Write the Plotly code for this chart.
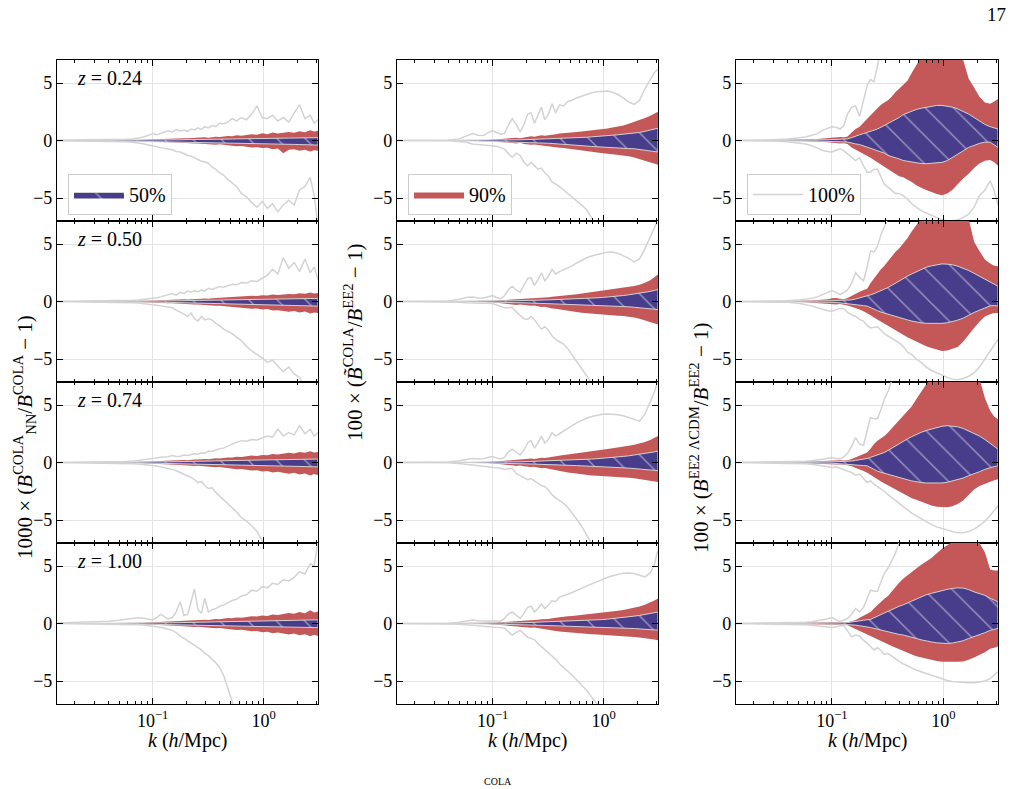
import plotly.graph_objects as go

# ---------------- data ----------------
K = [0.0138, 0.02, 0.03, 0.04, 0.05, 0.058, 0.066, 0.074, 0.083, 0.092,
     0.1, 0.109, 0.118, 0.128, 0.138, 0.15, 0.163, 0.177, 0.192, 0.207,
     0.222, 0.238, 0.256, 0.275, 0.295, 0.318, 0.343, 0.37, 0.4, 0.435,
     0.475, 0.52, 0.57, 0.63, 0.7, 0.78, 0.87, 0.97, 1.08, 1.2,
     1.34, 1.5, 1.68, 1.88, 2.1, 2.35, 2.62, 2.85, 3.08]

Z_LABELS = ["0.24", "0.50", "0.74", "1.00"]
LEGEND_NAMES = ["50%", "90%", "100%"]

# ---- column 1 : 1000 x (B_NN^COLA / B^COLA - 1) ----
C1R1_GRAY_UP = [0.02,0.03,0.04,0.05,0.08,0.1,0.14,0.2,0.3,0.45, 0.6,0.5,0.62,0.7,0.85,0.75,0.95,0.82,0.9,0.78, 1.0,0.92,1.1,0.95,1.2,1.1,1.3,1.2,1.5,1.45, 1.6,1.9,1.7,2.0,1.8,2.3,3.0,2.0,1.9,2.2, 1.7,2.0,1.6,2.4,3.1,1.9,2.2,1.5,1.8]
C1R1_GRAY_LO = [-0.02,-0.03,-0.04,-0.05,-0.08,-0.1,-0.15,-0.2,-0.28,-0.4, -0.5,-0.55,-0.62,-0.7,-0.78,-0.8,-0.95,-1.0,-1.15,-1.3, -1.35,-1.5,-1.6,-1.8,-1.85,-2.0,-2.3,-2.5,-2.8,-3.0, -3.4,-3.7,-4.0,-4.6,-4.9,-5.4,-5.8,-5.3,-5.9,-5.5, -6.2,-5.6,-5.2,-5.6,-4.3,-4.0,-3.2,-4.8,-7.5]
C1R1_RED_UP = [0.0,0.0,0.01,0.01,0.02,0.03,0.04,0.05,0.06,0.08, 0.1,0.11,0.12,0.13,0.15,0.14,0.17,0.18,0.2,0.19, 0.22,0.24,0.22,0.26,0.28,0.25,0.3,0.33,0.3,0.36, 0.4,0.38,0.45,0.42,0.5,0.55,0.5,0.62,0.55,0.7, 0.6,0.65,0.75,0.68,0.8,0.72,0.9,0.78,0.85]
C1R1_RED_LO = [0.0,0.0,-0.01,-0.01,-0.02,-0.03,-0.04,-0.05,-0.06,-0.08, -0.1,-0.12,-0.13,-0.14,-0.16,-0.15,-0.18,-0.2,-0.22,-0.2, -0.24,-0.26,-0.25,-0.28,-0.3,-0.28,-0.33,-0.36,-0.33,-0.4, -0.42,-0.45,-0.5,-0.48,-0.55,-0.6,-0.58,-0.65,-0.62,-0.75, -0.7,-1.1,-0.8,-0.75,-0.9,-0.8,-0.95,-0.85,-0.9]
C1R1_BLUE_UP = [0,0,0,0,0.01,0.01,0.01,0.02,0.02,0.03, 0.03,0.04,0.04,0.05,0.05,0.05,0.06,0.06,0.07,0.07, 0.08,0.08,0.09,0.09,0.1,0.1,0.11,0.11,0.12,0.12, 0.13,0.13,0.14,0.14,0.15,0.16,0.16,0.17,0.18,0.19, 0.2,0.2,0.21,0.22,0.23,0.22,0.25,0.24,0.25]
C1R1_BLUE_LO = [0,0,0,0,-0.01,-0.01,-0.02,-0.02,-0.03,-0.04, -0.05,-0.05,-0.06,-0.07,-0.08,-0.08,-0.09,-0.1,-0.11,-0.11, -0.12,-0.13,-0.14,-0.14,-0.15,-0.16,-0.17,-0.18,-0.19,-0.2, -0.21,-0.22,-0.23,-0.24,-0.25,-0.26,-0.27,-0.28,-0.29,-0.3, -0.31,-0.32,-0.33,-0.34,-0.35,-0.36,-0.37,-0.38,-0.4]

C1R2_GRAY_UP = [0.01,0.02,0.03,0.04,0.06,0.08,0.1,0.14,0.18,0.22, 0.25,0.32,0.4,0.5,0.6,0.7,0.55,0.8,0.7,0.9, 0.8,0.95,0.85,1.0,0.9,1.15,1.05,1.2,1.3,1.25, 1.4,1.5,1.45,1.65,1.6,1.8,1.75,2.0,2.3,2.8, 2.4,3.8,2.9,3.4,2.6,3.7,2.5,3.0,1.9]
C1R2_GRAY_LO = [-0.01,-0.02,-0.03,-0.04,-0.06,-0.08,-0.1,-0.13,-0.17,-0.22, -0.26,-0.32,-0.38,-0.45,-0.5,-0.55,-0.75,-0.9,-1.1,-1.3, -1.0,-1.5,-1.7,-1.3,-1.6,-1.5,-1.6,-1.9,-2.1,-2.4, -2.6,-2.8,-3.1,-3.4,-3.9,-4.3,-4.6,-4.9,-5.3,-5.1, -5.6,-6.1,-5.7,-6.3,-6.6,-7.5,-8.0,-8.0,-8.0]
C1R2_RED_UP = [0.0,0.0,0.01,0.01,0.02,0.03,0.04,0.05,0.06,0.07, 0.09,0.1,0.11,0.12,0.14,0.13,0.16,0.17,0.19,0.18, 0.21,0.22,0.21,0.25,0.26,0.24,0.29,0.31,0.29,0.34, 0.37,0.35,0.42,0.4,0.46,0.5,0.47,0.55,0.52,0.6, 0.56,0.62,0.66,0.62,0.72,0.68,0.78,0.7,0.75]
C1R2_RED_LO = [0.0,0.0,-0.01,-0.01,-0.02,-0.03,-0.04,-0.05,-0.06,-0.08, -0.1,-0.11,-0.12,-0.14,-0.16,-0.15,-0.18,-0.2,-0.22,-0.21, -0.25,-0.27,-0.26,-0.3,-0.32,-0.3,-0.35,-0.38,-0.36,-0.42, -0.45,-0.48,-0.52,-0.5,-0.58,-0.62,-0.6,-0.7,-0.66,-0.78, -0.75,-0.85,-0.9,-0.82,-0.95,-0.88,-1.05,-0.95,-1.0]
C1R2_BLUE_UP = [0,0,0,0,0.01,0.01,0.01,0.02,0.02,0.03, 0.03,0.04,0.04,0.05,0.05,0.06,0.06,0.07,0.07,0.08, 0.08,0.09,0.09,0.1,0.1,0.11,0.11,0.12,0.13,0.13, 0.14,0.15,0.15,0.16,0.17,0.17,0.18,0.19,0.2,0.2, 0.21,0.22,0.23,0.23,0.24,0.25,0.26,0.26,0.27]
C1R2_BLUE_LO = [0,0,0,0,-0.01,-0.01,-0.02,-0.02,-0.03,-0.04, -0.05,-0.05,-0.06,-0.07,-0.08,-0.08,-0.09,-0.1,-0.11,-0.12, -0.13,-0.14,-0.14,-0.15,-0.16,-0.17,-0.18,-0.19,-0.2,-0.21, -0.22,-0.23,-0.24,-0.25,-0.26,-0.27,-0.28,-0.29,-0.3,-0.31, -0.32,-0.33,-0.34,-0.35,-0.36,-0.37,-0.38,-0.39,-0.4]

C1R3_GRAY_UP = [0.01,0.02,0.03,0.04,0.05,0.08,0.12,0.17,0.22,0.28, 0.35,0.4,0.45,0.48,0.5,0.6,0.52,0.55,0.65,0.6, 0.7,0.75,0.72,0.85,0.8,1.0,0.95,1.1,1.2,1.25, 1.45,1.6,1.75,1.9,1.85,2.0,1.95,2.1,2.3,2.2, 2.9,2.3,2.6,2.4,3.2,2.5,2.9,2.3,2.6]
C1R3_GRAY_LO = [-0.01,-0.02,-0.03,-0.04,-0.05,-0.07,-0.1,-0.13,-0.17,-0.2, -0.23,-0.3,-0.38,-0.45,-0.5,-0.6,-0.72,-0.87,-1.0,-1.2, -1.3,-1.5,-1.75,-1.65,-2.0,-2.25,-2.2,-2.6,-2.9,-3.3, -3.6,-3.9,-4.3,-4.8,-5.1,-5.5,-6.0,-6.8,-7.5,-8.0, -8.0,-8.0,-8.0,-8.0,-8.0,-8.0,-8.0,-8.0,-8.0]
C1R3_RED_UP = [0,0,0.01,0.01,0.02,0.03,0.04,0.05,0.06,0.08, 0.1,0.11,0.12,0.14,0.15,0.15,0.18,0.2,0.21,0.2, 0.24,0.26,0.25,0.29,0.31,0.29,0.34,0.37,0.35,0.41, 0.44,0.43,0.5,0.48,0.56,0.6,0.57,0.66,0.62,0.74, 0.7,0.78,0.85,0.78,0.92,0.84,0.98,0.86,0.92]
C1R3_RED_LO = [0,0,-0.01,-0.01,-0.02,-0.03,-0.04,-0.05,-0.07,-0.09, -0.11,-0.12,-0.14,-0.15,-0.17,-0.16,-0.2,-0.22,-0.24,-0.22, -0.27,-0.3,-0.28,-0.33,-0.36,-0.33,-0.39,-0.42,-0.4,-0.47, -0.5,-0.53,-0.58,-0.56,-0.64,-0.7,-0.67,-0.78,-0.74,-0.86, -0.8,-0.92,-0.98,-0.9,-1.05,-0.96,-1.12,-1.0,-1.1]
C1R3_BLUE_UP = [0,0,0,0,0.01,0.01,0.01,0.02,0.02,0.03, 0.03,0.04,0.05,0.05,0.06,0.06,0.07,0.07,0.08,0.09, 0.09,0.1,0.1,0.11,0.12,0.12,0.13,0.14,0.14,0.15, 0.16,0.17,0.17,0.18,0.19,0.2,0.21,0.22,0.22,0.23, 0.24,0.25,0.26,0.27,0.27,0.28,0.29,0.3,0.3]
C1R3_BLUE_LO = [0,0,0,0,-0.01,-0.01,-0.02,-0.02,-0.03,-0.03, -0.04,-0.05,-0.05,-0.06,-0.07,-0.07,-0.08,-0.09,-0.1,-0.1, -0.11,-0.12,-0.13,-0.13,-0.14,-0.15,-0.16,-0.17,-0.18,-0.19, -0.2,-0.21,-0.22,-0.23,-0.24,-0.25,-0.26,-0.27,-0.28,-0.29, -0.3,-0.31,-0.32,-0.33,-0.34,-0.35,-0.36,-0.37,-0.38]

C1R4_GRAY_UP = [0.05,0.08,0.12,0.2,0.29,0.35,0.42,0.5,0.45,0.35, 0.3,0.5,0.8,0.6,0.4,0.5,1.0,1.9,0.7,0.8, 2.0,3.0,1.2,0.9,2.2,1.0,1.2,1.3,1.5,1.6, 1.8,2.0,2.1,2.4,2.5,2.9,2.8,3.2,3.1,3.5, 3.4,3.8,3.7,4.0,4.5,4.3,5.2,5.0,7.2]
C1R4_GRAY_LO = [-0.01,-0.02,-0.03,-0.04,-0.05,-0.06,-0.08,-0.1,-0.13,-0.18, -0.23,-0.28,-0.33,-0.42,-0.5,-0.6,-0.8,-1.1,-1.3,-1.5, -1.7,-1.9,-2.1,-2.3,-2.6,-2.8,-3.1,-3.4,-3.8,-4.5, -5.6,-6.8,-8.0,-8.0,-8.0,-8.0,-8.0,-8.0,-8.0,-8.0, -8.0,-8.0,-8.0,-8.0,-8.0,-8.0,-8.0,-8.0,-8.0]
C1R4_RED_UP = [0,0,0.01,0.01,0.02,0.03,0.04,0.05,0.06,0.08, 0.1,0.12,0.13,0.15,0.16,0.16,0.19,0.21,0.23,0.22, 0.26,0.28,0.27,0.31,0.33,0.31,0.36,0.4,0.38,0.44, 0.47,0.46,0.53,0.51,0.6,0.64,0.6,0.7,0.66,0.78, 0.74,0.84,0.92,0.84,1.0,0.9,1.15,0.95,1.05]
C1R4_RED_LO = [0,0,-0.01,-0.01,-0.02,-0.03,-0.04,-0.05,-0.07,-0.09, -0.11,-0.12,-0.14,-0.15,-0.17,-0.16,-0.2,-0.22,-0.24,-0.22, -0.27,-0.3,-0.28,-0.33,-0.36,-0.33,-0.39,-0.42,-0.4,-0.46, -0.5,-0.52,-0.57,-0.55,-0.63,-0.68,-0.65,-0.76,-0.72,-0.84, -0.78,-0.9,-0.96,-0.88,-1.02,-0.94,-1.1,-0.98,-1.08]
C1R4_BLUE_UP = [0,0,0,0,0.01,0.01,0.01,0.02,0.02,0.03, 0.03,0.04,0.05,0.05,0.06,0.06,0.07,0.07,0.08,0.09, 0.09,0.1,0.1,0.11,0.12,0.12,0.13,0.14,0.14,0.15, 0.16,0.17,0.17,0.18,0.19,0.2,0.21,0.22,0.22,0.23, 0.24,0.25,0.26,0.27,0.28,0.29,0.3,0.31,0.32]
C1R4_BLUE_LO = [0,0,0,0,-0.01,-0.01,-0.02,-0.02,-0.03,-0.03, -0.04,-0.05,-0.05,-0.06,-0.07,-0.07,-0.08,-0.09,-0.1,-0.1, -0.11,-0.12,-0.13,-0.13,-0.14,-0.15,-0.16,-0.17,-0.18,-0.19, -0.2,-0.21,-0.22,-0.23,-0.24,-0.25,-0.26,-0.27,-0.28,-0.29, -0.3,-0.31,-0.32,-0.33,-0.33,-0.34,-0.35,-0.35,-0.36]

# ---- column 2 : 100 x (B~COLA / B^EE2 - 1) ----
C2R1_GRAY_UP = [0.0,0.0,0.01,0.03,0.14,0.35,0.6,0.45,0.43,0.7, 0.85,0.7,0.55,0.6,1.3,1.9,1.4,0.75,1.4,2.3, 2.4,1.5,2.2,2.9,1.8,2.3,3.2,2.4,3.1,3.0, 3.4,3.5,3.7,3.85,4.0,4.15,4.25,4.3,4.3,4.2, 4.0,3.7,3.35,3.15,3.5,4.5,5.3,5.9,6.2]
C2R1_GRAY_LO = [0.0,0.0,-0.01,-0.03,-0.08,-0.15,-0.3,-0.35,-0.43,-0.45, -0.45,-0.5,-0.62,-0.75,-1.1,-1.45,-1.1,-1.3,-1.9,-2.2, -1.9,-2.2,-2.5,-2.4,-2.8,-3.1,-3.6,-3.8,-4.0,-4.3, -4.6,-4.9,-5.2,-5.6,-6.0,-6.8,-7.5,-8.0,-8.0,-8.0, -8.0,-8.0,-8.0,-8.0,-8.0,-8.0,-8.0,-8.0,-8.0]
C2R1_RED_UP = [0,0,0,0,0,0,0,0.02,0.03,0.05, 0.07,0.1,0.12,0.15,0.18,0.22,0.25,0.2,0.28,0.35, 0.38,0.32,0.4,0.45,0.42,0.48,0.55,0.55,0.6,0.62, 0.66,0.7,0.74,0.78,0.82,0.88,0.95,1.0,1.05,1.12, 1.2,1.3,1.45,1.6,1.75,1.95,2.15,2.35,2.5]
C2R1_RED_LO = [0,0,0,0,0,0,0,-0.02,-0.03,-0.05, -0.07,-0.1,-0.12,-0.15,-0.18,-0.22,-0.25,-0.2,-0.3,-0.36, -0.38,-0.34,-0.42,-0.46,-0.45,-0.5,-0.55,-0.58,-0.62,-0.65, -0.7,-0.75,-0.8,-0.85,-0.9,-0.97,-1.05,-1.12,-1.16,-1.2, -1.25,-1.3,-1.38,-1.48,-1.6,-1.72,-1.85,-2.0,-2.1]
C2R1_BLUE_UP = [0,0,0,0,0,0,0,0.01,0.01,0.02, 0.02,0.03,0.03,0.04,0.05,0.05,0.06,0.06,0.07,0.08, 0.09,0.09,0.1,0.11,0.11,0.12,0.13,0.13,0.14,0.16, 0.18,0.2,0.22,0.25,0.28,0.32,0.37,0.4,0.43,0.46, 0.5,0.54,0.58,0.63,0.7,0.8,0.9,1.0,1.07]
C2R1_BLUE_LO = [0,0,0,0,0,0,0,-0.01,-0.02,-0.03, -0.04,-0.05,-0.06,-0.07,-0.08,-0.1,-0.11,-0.12,-0.14,-0.16, -0.18,-0.2,-0.21,-0.22,-0.23,-0.24,-0.26,-0.27,-0.28,-0.3, -0.33,-0.36,-0.4,-0.44,-0.48,-0.52,-0.56,-0.6,-0.62,-0.64, -0.66,-0.68,-0.7,-0.72,-0.76,-0.82,-0.88,-0.95,-1.0]

C2R2_GRAY_UP = [0,0,0.01,0.05,0.2,0.35,0.4,0.3,0.3,0.45, 0.52,0.35,0.25,0.5,1.0,1.33,1.0,0.8,1.4,2.0, 2.05,1.4,1.9,2.5,1.8,2.2,2.8,2.4,2.6,2.75, 2.9,3.1,3.35,3.6,3.8,3.95,4.1,4.2,4.28,4.3, 4.2,4.0,3.75,3.45,3.7,4.6,5.6,6.4,7.1]
C2R2_GRAY_LO = [0,0,-0.01,-0.03,-0.06,-0.1,-0.13,-0.15,-0.16,-0.17, -0.17,-0.3,-0.45,-0.55,-0.55,-0.5,-0.9,-1.2,-1.5,-1.55, -1.3,-1.6,-2.0,-2.4,-2.2,-2.5,-3.0,-3.3,-3.5,-3.7, -4.1,-4.6,-5.2,-5.8,-6.5,-7.1,-7.6,-8.0,-8.0,-8.0, -8.0,-8.0,-8.0,-8.0,-8.0,-8.0,-8.0,-8.0,-8.0]
C2R2_RED_UP = [0,0,0,0,0,0,0,0.02,0.03,0.04, 0.06,0.08,0.1,0.12,0.15,0.18,0.2,0.18,0.22,0.26, 0.28,0.25,0.3,0.34,0.32,0.38,0.42,0.44,0.48,0.5, 0.54,0.58,0.62,0.68,0.74,0.8,0.86,0.92,0.98,1.04, 1.1,1.16,1.24,1.34,1.46,1.62,1.85,2.1,2.35]
C2R2_RED_LO = [0,0,0,0,0,0,0,-0.02,-0.03,-0.05, -0.07,-0.1,-0.12,-0.15,-0.2,-0.25,-0.3,-0.25,-0.32,-0.36, -0.38,-0.35,-0.42,-0.48,-0.46,-0.54,-0.6,-0.64,-0.68,-0.72, -0.78,-0.85,-0.92,-0.98,-1.03,-1.08,-1.12,-1.15,-1.18,-1.2, -1.23,-1.27,-1.32,-1.4,-1.5,-1.62,-1.75,-1.9,-2.0]
C2R2_BLUE_UP = [0,0,0,0,0,0,0,0.01,0.01,0.02, 0.02,0.03,0.03,0.04,0.05,0.06,0.07,0.07,0.08,0.09, 0.1,0.1,0.11,0.12,0.13,0.14,0.15,0.16,0.17,0.18, 0.2,0.22,0.24,0.26,0.28,0.3,0.32,0.35,0.38,0.42, 0.46,0.52,0.58,0.64,0.72,0.8,0.88,0.96,1.04]
C2R2_BLUE_LO = [0,0,0,0,0,0,0,-0.01,-0.02,-0.03, -0.04,-0.05,-0.06,-0.07,-0.08,-0.09,-0.1,-0.1,-0.11,-0.12, -0.13,-0.14,-0.15,-0.16,-0.17,-0.18,-0.19,-0.2,-0.21,-0.22, -0.23,-0.25,-0.27,-0.29,-0.31,-0.33,-0.35,-0.36,-0.37,-0.39, -0.41,-0.43,-0.46,-0.5,-0.54,-0.58,-0.62,-0.66,-0.7]

C2R3_GRAY_UP = [0,0,0.01,0.04,0.15,0.28,0.35,0.3,0.32,0.45, 0.52,0.4,0.3,0.45,0.9,1.16,0.9,0.65,1.1,1.7, 1.9,1.25,1.7,2.3,1.7,2.0,2.6,2.3,2.5,2.7, 2.95,3.2,3.45,3.65,3.85,4.0,4.12,4.2,4.22,4.2, 4.15,4.06,3.9,3.7,3.6,4.2,5.2,6.1,7.1]
C2R3_GRAY_LO = [0,0,-0.01,-0.03,-0.08,-0.15,-0.22,-0.28,-0.35,-0.4, -0.43,-0.45,-0.5,-0.6,-0.55,-0.5,-0.95,-1.16,-1.3,-1.5, -1.4,-1.6,-1.85,-2.0,-2.1,-2.4,-2.8,-3.1,-3.3,-3.55, -3.9,-4.4,-4.9,-5.5,-6.3,-7.0,-7.8,-8.0,-8.0,-8.0, -8.0,-8.0,-8.0,-8.0,-8.0,-8.0,-8.0,-8.0,-8.0]
C2R3_RED_UP = [0,0,0,0,0,0,0,0.02,0.03,0.05, 0.07,0.1,0.12,0.15,0.18,0.22,0.25,0.22,0.27,0.32, 0.35,0.3,0.37,0.42,0.4,0.46,0.52,0.56,0.6,0.65, 0.7,0.76,0.82,0.88,0.94,1.0,1.06,1.12,1.18,1.24, 1.3,1.38,1.46,1.55,1.65,1.78,1.95,2.12,2.3]
C2R3_RED_LO = [0,0,0,0,0,0,0,-0.02,-0.03,-0.05, -0.07,-0.1,-0.13,-0.16,-0.2,-0.25,-0.3,-0.26,-0.33,-0.38, -0.4,-0.36,-0.44,-0.5,-0.48,-0.56,-0.62,-0.68,-0.74,-0.8, -0.86,-0.92,-0.98,-1.03,-1.08,-1.12,-1.15,-1.18,-1.2,-1.22, -1.25,-1.28,-1.32,-1.37,-1.43,-1.5,-1.57,-1.64,-1.7]
C2R3_BLUE_UP = [0,0,0,0,0,0,0,0.01,0.01,0.02, 0.02,0.03,0.03,0.04,0.05,0.05,0.06,0.06,0.07,0.08, 0.09,0.09,0.1,0.11,0.12,0.13,0.14,0.15,0.16,0.17, 0.19,0.21,0.23,0.25,0.27,0.3,0.33,0.36,0.4,0.44, 0.48,0.53,0.58,0.64,0.7,0.77,0.84,0.92,1.0]
C2R3_BLUE_LO = [0,0,0,0,0,0,0,-0.01,-0.02,-0.03, -0.04,-0.05,-0.06,-0.07,-0.08,-0.09,-0.1,-0.1,-0.11,-0.12, -0.13,-0.14,-0.15,-0.16,-0.17,-0.18,-0.19,-0.2,-0.21,-0.22, -0.23,-0.25,-0.27,-0.29,-0.31,-0.33,-0.35,-0.37,-0.39,-0.41, -0.43,-0.46,-0.49,-0.52,-0.56,-0.6,-0.64,-0.68,-0.72]

C2R4_GRAY_UP = [0,0,0.01,0.03,0.1,0.2,0.3,0.25,0.2,0.2, 0.23,0.18,0.2,0.45,0.8,1.0,0.75,0.45,0.9,1.4, 1.5,1.0,1.3,1.7,1.3,1.6,2.0,1.9,2.3,2.4, 2.55,2.7,2.85,3.05,3.25,3.45,3.65,3.85,4.0,4.15, 4.28,4.38,4.4,4.35,4.2,4.06,4.4,5.1,6.4]
C2R4_GRAY_LO = [0,0,-0.01,-0.03,-0.06,-0.1,-0.14,-0.18,-0.22,-0.26, -0.29,-0.3,-0.35,-0.4,-0.7,-1.0,-0.8,-0.6,-0.9,-1.2, -1.3,-1.4,-1.75,-2.0,-2.3,-2.5,-2.8,-3.1,-3.5,-3.8, -4.1,-4.5,-4.9,-5.3,-5.8,-6.4,-7.0,-7.6,-8.0,-8.0, -8.0,-8.0,-8.0,-8.0,-8.0,-8.0,-8.0,-8.0,-8.0]
C2R4_RED_UP = [0,0,0,0,0,0,0,0.02,0.03,0.04, 0.06,0.08,0.1,0.12,0.15,0.18,0.2,0.18,0.22,0.26, 0.28,0.26,0.32,0.36,0.35,0.4,0.45,0.5,0.55,0.58, 0.62,0.66,0.7,0.74,0.78,0.83,0.88,0.93,0.98,1.03, 1.1,1.18,1.26,1.36,1.48,1.62,1.8,2.0,2.17]
C2R4_RED_LO = [0,0,0,0,0,0,0,-0.02,-0.03,-0.05, -0.07,-0.1,-0.12,-0.15,-0.2,-0.25,-0.3,-0.26,-0.32,-0.36, -0.38,-0.35,-0.42,-0.48,-0.47,-0.54,-0.6,-0.65,-0.7,-0.72, -0.76,-0.8,-0.84,-0.87,-0.9,-0.93,-0.96,-0.99,-1.01,-1.03, -1.06,-1.09,-1.13,-1.17,-1.22,-1.27,-1.33,-1.39,-1.45]
C2R4_BLUE_UP = [0,0,0,0,0,0,0,0.01,0.01,0.02, 0.02,0.03,0.03,0.04,0.05,0.05,0.06,0.06,0.07,0.08, 0.09,0.09,0.1,0.11,0.12,0.13,0.14,0.15,0.16,0.17, 0.18,0.2,0.22,0.24,0.26,0.28,0.31,0.34,0.38,0.42, 0.47,0.52,0.58,0.64,0.7,0.77,0.84,0.92,1.0]
C2R4_BLUE_LO = [0,0,0,0,0,0,0,-0.01,-0.02,-0.03, -0.04,-0.05,-0.06,-0.07,-0.08,-0.09,-0.1,-0.1,-0.11,-0.12, -0.13,-0.14,-0.15,-0.16,-0.17,-0.18,-0.19,-0.2,-0.21,-0.22, -0.23,-0.24,-0.26,-0.28,-0.3,-0.32,-0.33,-0.34,-0.35,-0.36, -0.38,-0.4,-0.42,-0.44,-0.46,-0.49,-0.52,-0.55,-0.58]

# ---- column 3 : 100 x (B^EE2 LCDM / B^EE2 - 1) ----
C3R1_GRAY_UP = [0,0.01,0.06,0.12,0.2,0.3,0.45,0.6,0.9,1.1, 1.2,1.15,1.0,1.3,2.3,2.9,3.0,2.1,3.5,4.8, 5.3,5.1,6.5,8.0,8.0,8.0,8.0,8.0,8.0,8.0, 8.0,8.0,8.0,8.0,8.0,8.0,8.0,8.0,8.0,8.0, 8.0,8.0,8.0,8.0,8.0,8.0,8.0,8.0,8.0]
C3R1_GRAY_LO = [0,-0.01,-0.05,-0.1,-0.2,-0.3,-0.45,-0.65,-0.87,-0.95, -1.0,-0.85,-0.72,-0.9,-1.2,-1.45,-1.74,-1.5,-2.2,-2.75, -2.75,-2.5,-2.5,-3.2,-3.8,-4.06,-4.3,-4.6,-4.6,-4.8, -5.1,-5.5,-5.8,-6.1,-6.3,-6.5,-6.7,-6.9,-7.0,-7.0, -6.9,-6.7,-6.4,-5.8,-4.8,-4.3,-3.5,-4.4,-5.6]
C3R1_RED_UP = [0,0.01,0.02,0.04,0.06,0.08,0.1,0.13,0.17,0.22, 0.28,0.32,0.3,0.28,0.35,0.7,1.0,1.2,1.6,1.9, 2.2,2.5,2.8,3.1,3.3,3.5,3.8,4.2,4.5,4.8, 5.2,5.9,6.5,7.2,8.0,8.0,8.0,8.0,8.0,8.0, 8.0,7.0,5.4,4.6,3.8,3.3,3.2,3.4,3.6]
C3R1_RED_LO = [0,-0.01,-0.02,-0.03,-0.05,-0.06,-0.08,-0.1,-0.12,-0.16, -0.2,-0.25,-0.25,-0.23,-0.3,-0.6,-0.85,-1.0,-1.2,-1.35, -1.5,-1.7,-1.9,-2.1,-2.3,-2.5,-2.7,-2.9,-3.1,-3.2, -3.4,-3.6,-3.9,-4.1,-4.3,-4.5,-4.65,-4.75,-4.6,-4.3, -3.8,-3.3,-2.9,-2.4,-2.0,-1.75,-1.7,-1.9,-2.2]
C3R1_BLUE_UP = [0,0,0.01,0.01,0.02,0.03,0.04,0.05,0.06,0.07, 0.08,0.09,0.1,0.12,0.14,0.25,0.4,0.5,0.6,0.7, 0.75,0.85,1.0,1.15,1.3,1.45,1.6,1.8,2.0,2.25, 2.4,2.55,2.7,2.8,2.9,3.0,3.05,3.05,3.0,2.9, 2.75,2.55,2.3,2.0,1.7,1.4,1.2,1.1,1.0]
C3R1_BLUE_LO = [0,0,-0.01,-0.01,-0.02,-0.03,-0.04,-0.05,-0.06,-0.07, -0.08,-0.09,-0.1,-0.12,-0.14,-0.2,-0.3,-0.35,-0.45,-0.6, -0.72,-0.8,-0.9,-1.0,-1.1,-1.3,-1.4,-1.5,-1.6,-1.74, -1.8,-1.85,-1.92,-2.0,-2.02,-2.0,-1.95,-1.9,-1.75,-1.5, -1.2,-0.9,-0.6,-0.43,-0.25,-0.14,-0.15,-0.4,-0.6]

C3R2_GRAY_UP = [0,0.01,0.03,0.06,0.12,0.2,0.28,0.4,0.6,0.8, 0.95,0.8,0.6,0.8,1.0,1.6,2.5,2.1,1.8,3.0, 4.4,4.3,4.8,5.8,6.5,7.2,8.0,8.0,8.0,8.0, 8.0,8.0,8.0,8.0,8.0,8.0,8.0,8.0,8.0,8.0, 8.0,8.0,8.0,8.0,8.0,8.0,8.0,8.0,8.0]
C3R2_GRAY_LO = [0,-0.01,-0.03,-0.07,-0.15,-0.25,-0.38,-0.55,-0.7,-0.8, -0.84,-0.7,-0.6,-0.62,-0.95,-1.15,-1.3,-1.55,-1.7,-2.1, -2.3,-2.25,-2.2,-2.5,-2.8,-3.0,-3.2,-3.45,-3.6,-3.9, -4.4,-4.6,-5.0,-5.3,-5.7,-6.0,-6.2,-6.45,-6.6,-6.75, -6.8,-6.7,-6.5,-6.2,-5.7,-5.0,-4.3,-3.8,-3.3]
C3R2_RED_UP = [0,0.01,0.02,0.03,0.05,0.07,0.09,0.12,0.15,0.2, 0.28,0.3,0.25,0.2,0.3,0.5,0.7,0.85,1.0,1.1, 1.6,2.0,2.4,2.8,3.1,3.5,3.9,4.3,4.6,5.0, 5.5,6.1,6.6,7.2,8.0,8.0,8.0,8.0,8.0,8.0, 8.0,8.0,7.2,5.2,4.4,3.65,3.3,3.1,3.07]
C3R2_RED_LO = [0,-0.01,-0.02,-0.03,-0.05,-0.07,-0.09,-0.11,-0.14,-0.18, -0.22,-0.25,-0.22,-0.26,-0.35,-0.45,-0.55,-0.7,-0.85,-1.0, -1.2,-1.4,-1.57,-1.75,-1.95,-2.15,-2.3,-2.5,-2.7,-2.9, -3.1,-3.3,-3.5,-3.7,-3.9,-4.05,-4.2,-4.3,-4.25,-4.1, -3.95,-3.5,-2.9,-2.3,-1.75,-1.3,-1.1,-1.0,-1.0]
C3R2_BLUE_UP = [0,0,0.01,0.01,0.02,0.02,0.03,0.04,0.05,0.06, 0.07,0.08,0.08,0.09,0.1,0.14,0.22,0.3,0.4,0.5, 0.58,0.68,0.8,0.92,1.05,1.22,1.4,1.6,1.8,2.0, 2.2,2.4,2.6,2.8,2.98,3.1,3.2,3.27,3.25,3.2, 3.07,2.9,2.7,2.45,2.2,1.95,1.7,1.5,1.33]
C3R2_BLUE_LO = [0,0,-0.01,-0.01,-0.02,-0.02,-0.03,-0.04,-0.05,-0.06, -0.07,-0.08,-0.08,-0.1,-0.15,-0.22,-0.28,-0.32,-0.36,-0.4, -0.5,-0.65,-0.8,-0.92,-1.02,-1.12,-1.22,-1.32,-1.4,-1.5, -1.6,-1.7,-1.8,-1.86,-1.9,-1.92,-1.92,-1.9,-1.85,-1.75, -1.62,-1.45,-1.2,-0.95,-0.75,-0.55,-0.38,-0.35,-0.4]

C3R3_GRAY_UP = [0,0.01,0.02,0.04,0.07,0.1,0.15,0.2,0.28,0.36, 0.43,0.35,0.3,0.5,0.8,1.4,2.17,1.6,1.5,2.8, 3.9,3.8,3.8,4.6,5.5,6.2,7.2,8.0,8.0,8.0, 8.0,8.0,8.0,8.0,8.0,8.0,8.0,8.0,8.0,8.0, 8.0,8.0,8.0,8.0,8.0,8.0,8.0,8.0,8.0]
C3R3_GRAY_LO = [0,-0.01,-0.02,-0.04,-0.07,-0.1,-0.15,-0.2,-0.28,-0.36, -0.43,-0.4,-0.5,-0.6,-0.75,-0.87,-1.1,-1.0,-1.4,-1.74, -1.6,-1.9,-2.1,-2.3,-2.5,-2.8,-3.05,-3.3,-3.5,-3.8, -4.1,-4.4,-4.64,-4.9,-5.15,-5.4,-5.6,-5.75,-5.9,-6.0, -6.1,-6.1,-6.0,-5.8,-5.5,-5.1,-4.6,-4.2,-3.77]
C3R3_RED_UP = [0,0.01,0.02,0.03,0.04,0.06,0.08,0.1,0.13,0.16, 0.2,0.22,0.2,0.18,0.2,0.3,0.45,0.6,0.75,0.87, 1.2,1.6,1.9,2.1,2.3,2.6,2.95,3.3,3.6,4.0, 4.4,4.9,5.5,6.1,6.8,7.3,8.0,8.0,8.0,8.0, 8.0,8.0,8.0,8.0,7.3,5.6,4.5,4.0,3.77]
C3R3_RED_LO = [0,-0.01,-0.02,-0.03,-0.04,-0.06,-0.08,-0.1,-0.12,-0.14, -0.16,-0.18,-0.17,-0.2,-0.25,-0.32,-0.45,-0.6,-0.75,-0.9, -1.05,-1.25,-1.45,-1.65,-1.8,-1.95,-2.15,-2.35,-2.5,-2.7, -2.9,-3.1,-3.25,-3.45,-3.6,-3.75,-3.85,-3.9,-3.9,-3.8, -3.6,-3.3,-2.8,-2.35,-2.05,-1.85,-1.7,-1.55,-1.45]
C3R3_BLUE_UP = [0,0,0.01,0.01,0.01,0.02,0.02,0.03,0.04,0.05, 0.06,0.07,0.07,0.08,0.1,0.13,0.18,0.22,0.28,0.35, 0.45,0.55,0.65,0.75,0.87,1.05,1.25,1.45,1.65,1.85, 2.05,2.25,2.45,2.62,2.78,2.92,3.05,3.15,3.2,3.18, 3.1,2.96,2.75,2.5,2.3,2.0,1.7,1.4,1.16]
C3R3_BLUE_LO = [0,0,-0.01,-0.01,-0.01,-0.02,-0.02,-0.03,-0.04,-0.05, -0.06,-0.07,-0.07,-0.09,-0.12,-0.16,-0.2,-0.24,-0.27,-0.29, -0.45,-0.6,-0.75,-0.85,-0.95,-1.05,-1.15,-1.25,-1.3,-1.4, -1.5,-1.6,-1.68,-1.74,-1.78,-1.8,-1.8,-1.78,-1.72,-1.62, -1.5,-1.35,-1.15,-0.95,-0.8,-0.6,-0.45,-0.35,-0.29]

C3R4_GRAY_UP = [0,0.01,0.02,0.04,0.07,0.1,0.15,0.22,0.3,0.42, 0.52,0.3,0.15,0.3,0.43,0.8,1.3,1.0,1.4,2.2, 2.9,2.8,2.8,3.6,4.35,4.8,5.5,6.1,7.0,8.0, 8.0,8.0,8.0,8.0,8.0,8.0,8.0,8.0,8.0,8.0, 8.0,8.0,8.0,8.0,8.0,8.0,8.0,8.0,8.0]
C3R4_GRAY_LO = [0,-0.01,-0.02,-0.04,-0.07,-0.1,-0.15,-0.2,-0.26,-0.32, -0.35,-0.3,-0.2,-0.18,-0.6,-1.16,-1.0,-1.1,-1.45,-1.7, -2.0,-2.3,-2.1,-2.35,-2.7,-2.6,-2.85,-3.1,-3.3,-3.5, -3.7,-3.85,-4.05,-4.2,-4.35,-4.5,-4.65,-4.85,-4.95,-5.05, -5.1,-5.15,-5.16,-5.15,-5.1,-5.0,-4.8,-4.5,-4.2]
C3R4_RED_UP = [0,0.01,0.02,0.03,0.04,0.05,0.06,0.07,0.08,0.1, 0.12,0.1,0.08,0.06,0.1,0.2,0.3,0.5,0.7,0.85, 1.0,1.3,1.6,1.9,2.15,2.4,2.8,3.2,3.55,3.9, 4.2,4.5,4.8,5.1,5.4,5.7,6.1,6.5,6.8,7.1, 7.3,8.0,8.0,8.0,7.0,6.2,4.7,4.6,4.6]
C3R4_RED_LO = [0,-0.01,-0.02,-0.03,-0.04,-0.05,-0.06,-0.07,-0.08,-0.1, -0.12,-0.11,-0.1,-0.12,-0.16,-0.3,-0.43,-0.6,-0.8,-0.95, -1.05,-1.2,-1.35,-1.5,-1.65,-1.8,-1.95,-2.1,-2.25,-2.4, -2.55,-2.7,-2.85,-2.95,-3.05,-3.15,-3.25,-3.33,-3.35,-3.35, -3.33,-3.3,-3.15,-2.95,-2.75,-2.5,-2.2,-2.1,-2.0]
C3R4_BLUE_UP = [0,0,0.01,0.01,0.01,0.02,0.02,0.03,0.03,0.04, 0.05,0.05,0.05,0.06,0.08,0.12,0.14,0.2,0.28,0.33, 0.35,0.5,0.65,0.8,0.92,1.05,1.2,1.35,1.5,1.62, 1.78,1.95,2.15,2.35,2.5,2.62,2.75,2.88,2.97,3.05, 3.1,3.08,2.95,2.75,2.6,2.45,2.2,2.0,1.88]
C3R4_BLUE_LO = [0,0,-0.01,-0.01,-0.01,-0.02,-0.02,-0.03,-0.03,-0.04, -0.05,-0.05,-0.05,-0.06,-0.08,-0.11,-0.14,-0.2,-0.26,-0.32, -0.35,-0.42,-0.5,-0.58,-0.66,-0.72,-0.8,-0.88,-0.95,-1.0, -1.08,-1.18,-1.3,-1.42,-1.52,-1.6,-1.68,-1.73,-1.74,-1.7, -1.62,-1.5,-1.3,-1.1,-0.95,-0.8,-0.6,-0.5,-0.43]

# ---------------- assembly ----------------
PANELS = [
    [(C1R1_GRAY_UP, C1R1_GRAY_LO, C1R1_RED_UP, C1R1_RED_LO, C1R1_BLUE_UP, C1R1_BLUE_LO),
     (C2R1_GRAY_UP, C2R1_GRAY_LO, C2R1_RED_UP, C2R1_RED_LO, C2R1_BLUE_UP, C2R1_BLUE_LO),
     (C3R1_GRAY_UP, C3R1_GRAY_LO, C3R1_RED_UP, C3R1_RED_LO, C3R1_BLUE_UP, C3R1_BLUE_LO)],
    [(C1R2_GRAY_UP, C1R2_GRAY_LO, C1R2_RED_UP, C1R2_RED_LO, C1R2_BLUE_UP, C1R2_BLUE_LO),
     (C2R2_GRAY_UP, C2R2_GRAY_LO, C2R2_RED_UP, C2R2_RED_LO, C2R2_BLUE_UP, C2R2_BLUE_LO),
     (C3R2_GRAY_UP, C3R2_GRAY_LO, C3R2_RED_UP, C3R2_RED_LO, C3R2_BLUE_UP, C3R2_BLUE_LO)],
    [(C1R3_GRAY_UP, C1R3_GRAY_LO, C1R3_RED_UP, C1R3_RED_LO, C1R3_BLUE_UP, C1R3_BLUE_LO),
     (C2R3_GRAY_UP, C2R3_GRAY_LO, C2R3_RED_UP, C2R3_RED_LO, C2R3_BLUE_UP, C2R3_BLUE_LO),
     (C3R3_GRAY_UP, C3R3_GRAY_LO, C3R3_RED_UP, C3R3_RED_LO, C3R3_BLUE_UP, C3R3_BLUE_LO)],
    [(C1R4_GRAY_UP, C1R4_GRAY_LO, C1R4_RED_UP, C1R4_RED_LO, C1R4_BLUE_UP, C1R4_BLUE_LO),
     (C2R4_GRAY_UP, C2R4_GRAY_LO, C2R4_RED_UP, C2R4_RED_LO, C2R4_BLUE_UP, C2R4_BLUE_LO),
     (C3R4_GRAY_UP, C3R4_GRAY_LO, C3R4_RED_UP, C3R4_RED_LO, C3R4_BLUE_UP, C3R4_BLUE_LO)],
]

FONT = "Liberation Serif"
BLUE = "#483d8b"
RED = "#c45858"
GRAY = "#d3d3d3"
GRID = "#e3e3e3"

W, H = 1016, 789
XPIX = [(57, 318), (397, 658), (736, 998)]
YPIX = [(60, 221), (221, 382), (382, 543), (543, 704)]
X_DOM = [(a / W, b / W) for a, b in XPIX]
Y_DOM = [(1 - b / H, 1 - a / H) for a, b in YPIX]
XRANGE = [-1.8601, 0.4886]
MINOR_K = [0.02, 0.03, 0.04, 0.05, 0.06, 0.07, 0.08, 0.09,
           0.2, 0.3, 0.4, 0.5, 0.6, 0.7, 0.8, 0.9, 2, 3]


def poly(up, lo):
    n = min(len(K), len(up), len(lo))
    xs = K[:n] + K[:n][::-1]
    ys = list(up[:n]) + list(lo[:n])[::-1]
    return xs, ys


fig = go.Figure()
for r in range(4):
    for c in range(3):
        n = r * 3 + c + 1
        sfx = "" if n == 1 else str(n)
        xa, ya = "x" + sfx, "y" + sfx
        gu, gl, ru, rl, bu, bl = PANELS[r][c]

        xs, ys = poly(ru, rl)
        fig.add_trace(go.Scatter(
            x=xs, y=ys, mode="lines", fill="toself", fillcolor=RED,
            line=dict(width=0, color=RED), xaxis=xa, yaxis=ya, hoverinfo="skip",
            name=LEGEND_NAMES[1], legend="legend2", showlegend=(r == 0 and c == 1)))

        xs, ys = poly(bu, bl)
        fig.add_trace(go.Scatter(
            x=xs, y=ys, mode="lines", fill="toself", fillcolor=BLUE,
            fillpattern=dict(shape="\\", fgcolor="#ececec", bgcolor=BLUE,
                             size=20, solidity=0.07, fillmode="overlay"),
            line=dict(width=1, color=GRAY), xaxis=xa, yaxis=ya, hoverinfo="skip",
            name=LEGEND_NAMES[0], legend="legend", showlegend=(r == 0 and c == 0)))

        for j, g in enumerate((gu, gl)):
            m = min(len(K), len(g))
            fig.add_trace(go.Scatter(
                x=K[:m], y=g[:m], mode="lines", line=dict(width=1.5, color=GRAY),
                xaxis=xa, yaxis=ya, hoverinfo="skip",
                name=LEGEND_NAMES[2], legend="legend3",
                showlegend=(r == 0 and c == 2 and j == 0)))

layout = dict(
    width=W, height=H, autosize=False,
    margin=dict(l=0, r=0, t=0, b=0),
    paper_bgcolor="white", plot_bgcolor="white",
    font=dict(family=FONT, size=18, color="black"),
)

tickfont = dict(family=FONT, size=18, color="black")
for r in range(4):
    for c in range(3):
        n = r * 3 + c + 1
        sfx = "" if n == 1 else str(n)
        layout["xaxis" + sfx] = dict(
            domain=X_DOM[c], anchor="y" + sfx, type="log", range=XRANGE,
            tickmode="array", tickvals=[0.1, 1],
            ticktext=["10<sup>\u22121</sup>", "10<sup>0</sup>"],
            showticklabels=(r == 3), ticks="inside", ticklen=6, tickwidth=1,
            tickcolor="black", showline=True, linecolor="black", linewidth=1.2,
            mirror="ticks", showgrid=True, gridcolor=GRID, gridwidth=1,
            zeroline=False, tickfont=tickfont,
            minor=dict(tickmode="array", tickvals=MINOR_K, ticks="inside",
                       ticklen=3, tickcolor="black", showgrid=False))
        layout["yaxis" + sfx] = dict(
            domain=Y_DOM[r], anchor="x" + sfx, range=[-7, 7],
            tickmode="array", tickvals=[-5, 0, 5], ticktext=["\u22125", "0", "5"],
            ticks="inside", ticklen=6, tickwidth=1, tickcolor="black",
            showline=True, linecolor="black", linewidth=1.2, mirror="ticks",
            showgrid=True, gridcolor=GRID, gridwidth=1, zeroline=False,
            tickfont=tickfont)

legend_common = dict(
    xanchor="left", yanchor="top", bgcolor="rgba(255,255,255,0.85)",
    bordercolor="#cccccc", borderwidth=1,
    font=dict(family=FONT, size=20, color="black"), itemwidth=50,
    tracegroupgap=0)
layout["legend"] = dict(x=68 / W, y=1 - 174 / H, **legend_common)
layout["legend2"] = dict(x=408 / W, y=1 - 174 / H, **legend_common)
layout["legend3"] = dict(x=747 / W, y=1 - 174 / H, **legend_common)

ann = []
for r in range(4):
    n = r * 3 + 1
    sfx = "" if n == 1 else str(n)
    ann.append(dict(
        text="<i>z</i> = " + Z_LABELS[r], xref="x" + sfx + " domain",
        yref="y" + sfx + " domain", x=0.07, y=0.89, xanchor="left",
        yanchor="middle", showarrow=False, font=dict(family=FONT, size=20)))

YTITLES = [
    "1000 \u00d7 (<i>B</i><sup>COLA</sup><sub>NN</sub>/<i>B</i><sup>COLA</sup> \u2212 1)",
    "100 \u00d7 (<i>B\u0303</i><sup>COLA</sup>/<i>B</i><sup>EE2</sup> \u2212 1)",
    "100 \u00d7 (<i>B</i><sup>EE2 \u039bCDM</sup>/<i>B</i><sup>EE2</sup> \u2212 1)",
]
YT_POS = [(24, 437), (353, 343), (699, 438)]
for t, (px, py) in zip(YTITLES, YT_POS):
    ann.append(dict(text=t, xref="paper", yref="paper", x=px / W, y=1 - py / H,
                    xanchor="center", yanchor="middle", textangle=-90,
                    showarrow=False, font=dict(family=FONT, size=21)))

for c in range(3):
    cx = (XPIX[c][0] + XPIX[c][1]) / 2
    ann.append(dict(text="<i>k</i> (<i>h</i>/Mpc)", xref="paper", yref="paper",
                    x=cx / W, y=1 - 740 / H, xanchor="center", yanchor="middle",
                    showarrow=False, font=dict(family=FONT, size=20)))

ann.append(dict(text="17", xref="paper", yref="paper", x=1008 / W, y=1 - 14 / H,
                xanchor="right", yanchor="middle", showarrow=False,
                font=dict(family=FONT, size=19)))
ann.append(dict(text="COLA", xref="paper", yref="paper", x=498 / W, y=0.0,
                xanchor="center", yanchor="bottom", showarrow=False,
                font=dict(family=FONT, size=10)))
layout["annotations"] = ann

fig.update_layout(**layout)
fig.write_html("out.html")
